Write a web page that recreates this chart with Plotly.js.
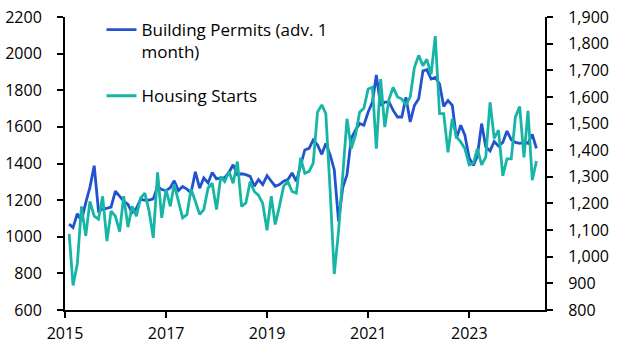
<!DOCTYPE html>
<html>
<head>
<meta charset="utf-8">
<script src="https://cdn.plot.ly/plotly-3.0.1.min.js"></script>
<style>
  html, body { margin: 0; padding: 0; background: #fff; }
  #chart { width: 629px; height: 355px; }
</style>
</head>
<body>
<div id="chart"></div>
<script>
// Monthly series, first month = Jan 2015, last month = Apr 2024
const startYear = 2015;
const startMonth = 0; // January

// Building permits (advanced 1 month), thousands, left axis
const buildingPermits = [
  1069, 1050, 1126, 1087, 1186, 1270, 1388, 1141, 1150, 1155, 1162, 1249,
  1218, 1195, 1177, 1132, 1155, 1204, 1200, 1200, 1207, 1275, 1258, 1252,
  1268, 1306, 1252, 1274, 1260, 1240, 1355, 1265, 1321, 1294, 1351, 1316,
  1321, 1321, 1351, 1393, 1339, 1344, 1339, 1330, 1276, 1312, 1285, 1334,
  1303, 1276, 1285, 1303, 1312, 1348, 1303, 1384, 1474, 1483, 1528, 1501,
  1450, 1510, 1447, 1366, 1085, 1267, 1339, 1537, 1582, 1618, 1609, 1681,
  1735, 1883, 1717, 1735, 1735, 1690, 1654, 1654, 1762, 1627, 1717, 1753,
  1906, 1912, 1861, 1870, 1834, 1712, 1744, 1717, 1537, 1609, 1555, 1430,
  1390, 1440, 1618, 1490, 1469, 1520, 1495, 1515, 1577, 1530, 1515, 1510,
  1515, 1510, 1559, 1483
];

// Housing starts, thousands, right axis
const housingStarts = [
  1086, 892, 973, 1189, 1078, 1208, 1152, 1141, 1227, 1059, 1171, 1152,
  1094, 1227, 1111, 1189, 1152, 1220, 1239, 1171, 1071, 1317, 1146, 1253,
  1189, 1272, 1208, 1146, 1158, 1253, 1208, 1159, 1177, 1258, 1276, 1177,
  1301, 1282, 1320, 1276, 1357, 1189, 1202, 1282, 1245, 1230, 1200, 1099,
  1227, 1121, 1190, 1265, 1282, 1245, 1239, 1372, 1313, 1320, 1351, 1543,
  1570, 1537, 1250, 935, 1096, 1308, 1518, 1406, 1456, 1543, 1557, 1630,
  1636, 1406, 1667, 1487, 1592, 1636, 1600, 1592, 1570, 1600, 1710, 1756,
  1717, 1741, 1685, 1828, 1537, 1537, 1392, 1518, 1450, 1431, 1406, 1345,
  1351, 1406, 1345, 1375, 1580, 1444, 1475, 1304, 1367, 1367, 1524, 1564,
  1373, 1548, 1287, 1359
];

const seriesNames = ['Building Permits (adv. 1<br>month)', 'Housing Starts'];
const xTickYears = ['2015', '2017', '2019', '2021', '2023'];

function monthEnd(i) {
  const d = new Date(Date.UTC(startYear, startMonth + i + 1, 0));
  return d.toISOString().slice(0, 10);
}
const dates = buildingPermits.map((_, i) => monthEnd(i));

const BLUE = '#2152cf';
const TEAL = '#17b5a6';
const FONT = 'Open Sans, Noto Sans, sans-serif';

const traces = [
  {
    x: dates, y: buildingPermits, name: seriesNames[0], type: 'scatter', mode: 'lines',
    line: { color: BLUE, width: 2.8 }, yaxis: 'y', legendgroup: 'a'
  },
  {
    x: dates, y: housingStarts, name: seriesNames[1], type: 'scatter', mode: 'lines',
    line: { color: TEAL, width: 2.8 }, yaxis: 'y2', legendgroup: 'b'
  }
];

const axisCommon = {
  showgrid: false, zeroline: false, showline: true, linecolor: '#000', linewidth: 2,
  ticks: 'outside', ticklen: 6, tickwidth: 2, tickcolor: '#000',
  tickfont: { family: FONT, size: 16, color: '#000' }
};

const layout = {
  width: 629, height: 355,
  margin: { l: 65, r: 84, t: 15, b: 45, pad: 0 },
  paper_bgcolor: '#fff', plot_bgcolor: '#fff',
  font: { family: FONT, color: '#000' },
  showlegend: true,
  legend: {
    x: 0.076, y: 1.017, xanchor: 'left', yanchor: 'top',
    bgcolor: 'rgba(0,0,0,0)', borderwidth: 0,
    font: { family: FONT, size: 17, color: '#000' },
    tracegroupgap: 19, valign: 'top'
  },
  xaxis: Object.assign({}, axisCommon, {
    type: 'date',
    range: ['2015-01-01', '2024-07-01'],
    tickmode: 'array',
    tickvals: xTickYears.map(y => y + '-01-01'),
    ticktext: xTickYears,
    ticklabelstandoff: 2
  }),
  yaxis: Object.assign({}, axisCommon, {
    range: [600, 2200], dtick: 200, tick0: 600,
    tickformat: 'd', ticklabelstandoff: 12
  }),
  yaxis2: Object.assign({}, axisCommon, {
    overlaying: 'y', side: 'right',
    range: [800, 1900], dtick: 100, tick0: 800,
    tickformat: ',d', ticklabelstandoff: 12
  })
};

Plotly.newPlot('chart', traces, layout, { displayModeBar: false, staticPlot: true });
</script>
</body>
</html>
